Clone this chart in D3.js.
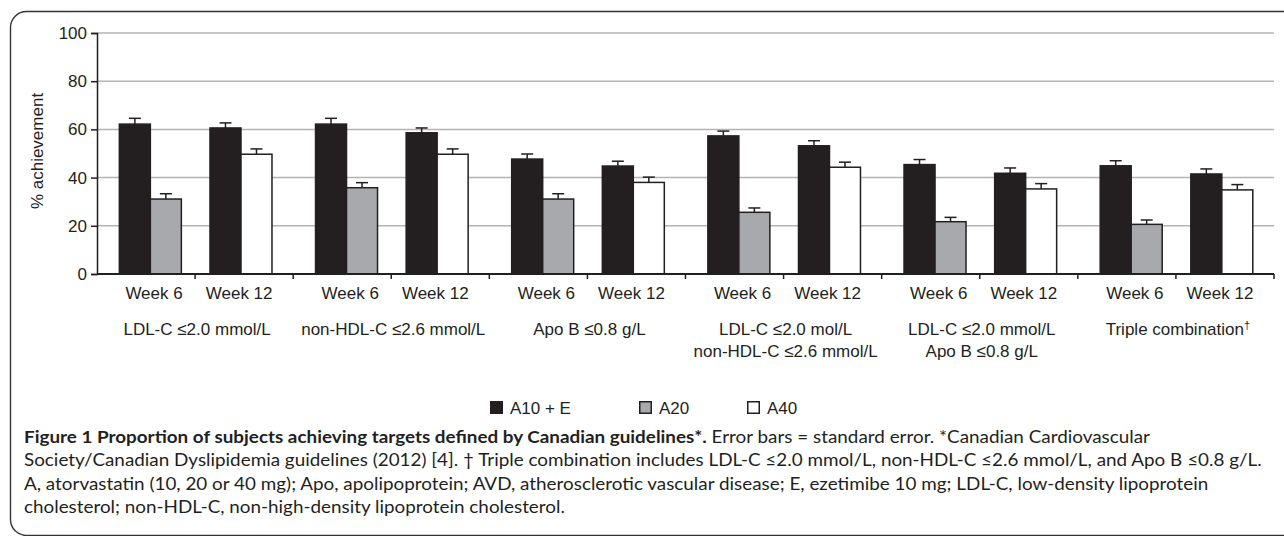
<!DOCTYPE html>
<html>
<head>
<meta charset="utf-8">
<script src="https://cdn.jsdelivr.net/npm/d3@7"></script>
<style>
  html, body { margin: 0; padding: 0; background: #fff; }
  svg { display: block; }
</style>
</head>
<body>
<svg id="chart" width="1284" height="536"></svg>
<script>
// categories, two weeks each -> 12 slots along the x axis
const categoryLines = [
  ["LDL-C ≤2.0 mmol/L"],
  ["non-HDL-C ≤2.6 mmol/L"],
  ["Apo B ≤0.8 g/L"],
  ["LDL-C ≤2.0 mol/L", "non-HDL-C ≤2.6 mmol/L"],
  ["LDL-C ≤2.0 mmol/L", "Apo B ≤0.8 g/L"],
  ["Triple combination†"]
];
const weeks = ["Week 6", "Week 12"];
const seriesNames = ["A10 + E", "A20", "A40"];
const seriesColors = ["#231f20", "#a7a9ac", "#ffffff"];

// values per slot (cat0 wk6, cat0 wk12, cat1 wk6, ...), null = not shown
const a10e = [62.2, 60.6, 62.2, 58.6, 47.7, 44.8, 57.3, 53.2, 45.4, 41.8, 44.9, 41.5];
const a20 = [31.1, null, 35.8, null, 31.1, null, 25.6, null, 21.7, null, 20.6, null];
const a40 = [null, 49.7, null, 49.7, null, 38.0, null, 44.3, null, 35.3, null, 34.9];

// standard errors
const a10eErr = [2.4, 2.1, 2.4, 2.0, 2.1, 2.0, 2.0, 2.1, 2.1, 2.2, 2.1, 2.1];
const a20Err = [2.2, null, 2.1, null, 2.2, null, 1.8, null, 1.8, null, 1.8, null];
const a40Err = [null, 2.2, null, 2.2, null, 2.2, null, 2.1, null, 2.2, null, 2.2];

const yTicks = [0, 20, 40, 60, 80, 100];

const seriesValues = [a10e, a20, a40];
const seriesErrors = [a10eErr, a20Err, a40Err];

const svg = d3.select("#chart");
const font = "'Liberation Sans', Arial, sans-serif";

// outer rounded frame
svg.append("rect")
  .attr("x", 10.5).attr("y", 11.5)
  .attr("width", 1300).attr("height", 524)
  .attr("rx", 16).attr("ry", 16)
  .attr("fill", "none")
  .attr("stroke", "#333")
  .attr("stroke-width", 1.4);

const plot = { left: 97, right: 1274, top: 33, bottom: 274 };

const nSlots = categoryLines.length * weeks.length;
const x = d3.scaleBand()
  .domain(d3.range(nSlots))
  .range([plot.left, plot.right])
  .padding(0);

const y = d3.scaleLinear()
  .domain([0, 100])
  .range([plot.bottom, plot.top]);

const slotW = x.bandwidth();
const barW = slotW * 0.316;
const pairOffset = [slotW * 0.228, slotW * 0.152]; // week 6, week 12

// gridlines
svg.append("g")
  .selectAll("line")
  .data(yTicks.filter(d => d > 0))
  .join("line")
  .attr("x1", plot.left).attr("x2", plot.right)
  .attr("y1", d => y(d)).attr("y2", d => y(d))
  .attr("stroke", "#b3b3b3")
  .attr("stroke-width", 1.5);

// build bar records
const bars = [];
d3.range(nSlots).forEach(slot => {
  let i = 0;
  seriesValues.forEach((vals, s) => {
    if (vals[slot] == null) return;
    bars.push({
      slot: slot,
      series: s,
      value: vals[slot],
      err: seriesErrors[s][slot],
      x: x(slot) + pairOffset[slot % 2] + i * barW
    });
    i++;
  });
});

// error bars (plus only)
const errG = svg.append("g");
errG.selectAll("line.stem")
  .data(bars)
  .join("line")
  .attr("class", "stem")
  .attr("x1", d => d.x + barW / 2).attr("x2", d => d.x + barW / 2)
  .attr("y1", d => y(d.value)).attr("y2", d => y(d.value + d.err))
  .attr("stroke", "#231f20").attr("stroke-width", 1.5);
errG.selectAll("line.cap")
  .data(bars)
  .join("line")
  .attr("class", "cap")
  .attr("x1", d => d.x + barW / 2 - 6).attr("x2", d => d.x + barW / 2 + 6)
  .attr("y1", d => y(d.value + d.err)).attr("y2", d => y(d.value + d.err))
  .attr("stroke", "#231f20").attr("stroke-width", 1.5);

// bars
svg.append("g")
  .selectAll("rect")
  .data(bars)
  .join("rect")
  .attr("x", d => d.x)
  .attr("y", d => y(d.value))
  .attr("width", barW)
  .attr("height", d => y(0) - y(d.value))
  .attr("fill", d => seriesColors[d.series])
  .attr("stroke", "#231f20")
  .attr("stroke-width", 1.5);

// y axis
const yAxis = d3.axisLeft(y).tickValues(yTicks).tickSize(6).tickPadding(4);
const yG = svg.append("g")
  .attr("transform", `translate(${plot.left},0)`)
  .call(yAxis);
yG.select(".domain").attr("stroke", "#231f20").attr("stroke-width", 1.5);
yG.selectAll(".tick line").attr("stroke", "#231f20").attr("stroke-width", 1.5);
yG.selectAll("text")
  .attr("font-family", font).attr("font-size", 17).attr("fill", "#231f20");

svg.append("text")
  .attr("transform", `translate(43,151) rotate(-90)`)
  .attr("text-anchor", "middle")
  .attr("font-family", font).attr("font-size", 17).attr("fill", "#231f20")
  .text("% achievement");

// x axis line with slot boundary ticks
const boundaries = d3.range(nSlots + 1).map(i => plot.left + i * slotW);
svg.append("line")
  .attr("x1", plot.left).attr("x2", plot.right)
  .attr("y1", plot.bottom).attr("y2", plot.bottom)
  .attr("stroke", "#231f20").attr("stroke-width", 1.8);
svg.append("g")
  .selectAll("line")
  .data(boundaries.slice(1))
  .join("line")
  .attr("x1", d => d).attr("x2", d => d)
  .attr("y1", plot.bottom).attr("y2", plot.bottom + 5)
  .attr("stroke", "#231f20").attr("stroke-width", 1.5);

// week labels
const weekShift = [8, -5];
svg.append("g")
  .selectAll("text")
  .data(d3.range(nSlots))
  .join("text")
  .attr("x", d => x(d) + slotW / 2 + weekShift[d % 2])
  .attr("y", 299)
  .attr("text-anchor", "middle")
  .attr("font-family", font).attr("font-size", 17).attr("fill", "#231f20")
  .text(d => weeks[d % 2]);

// category labels
const catG = svg.append("g")
  .selectAll("text")
  .data(categoryLines)
  .join("text")
  .attr("x", (d, i) => x(i * 2) + slotW + 2)
  .attr("y", 335)
  .attr("text-anchor", "middle")
  .attr("font-family", font).attr("font-size", 17).attr("fill", "#231f20");
catG.each(function(lines) {
  const t = d3.select(this);
  lines.forEach((line, li) => {
    const ts = t.append("tspan")
      .attr("x", t.attr("x"))
      .attr("dy", li === 0 ? 0 : 22);
    if (line.endsWith("†")) {
      ts.text(line.slice(0, -1));
      t.append("tspan").attr("dy", -6).attr("font-size", 11).text("†");
    } else {
      ts.text(line);
    }
  });
});

// legend
const legendX = [490, 639, 747];
const legend = svg.append("g")
  .selectAll("g")
  .data(seriesNames)
  .join("g")
  .attr("transform", (d, i) => `translate(${legendX[i]},401)`);
legend.append("rect")
  .attr("x", 0.75).attr("y", 0.75)
  .attr("width", 11.5).attr("height", 11.5)
  .attr("fill", (d, i) => seriesColors[i])
  .attr("stroke", "#231f20").attr("stroke-width", 1.5);
legend.append("text")
  .attr("x", 20).attr("y", 13)
  .attr("font-family", font).attr("font-size", 17).attr("fill", "#231f20")
  .text(d => d);

// caption
const captionLines = [
  [["Figure 1 Proportion of subjects achieving targets defined by Canadian guidelines*.", true],
   [" Error bars = standard error. *Canadian Cardiovascular", false]],
  [["Society/Canadian Dyslipidemia guidelines (2012) [4]. † Triple combination includes LDL-C ≤2.0 mmol/L, non-HDL-C ≤2.6 mmol/L, and Apo B ≤0.8 g/L.", false]],
  [["A, atorvastatin (10, 20 or 40 mg); Apo, apolipoprotein; AVD, atherosclerotic vascular disease; E, ezetimibe 10 mg; LDL-C, low-density lipoprotein", false]],
  [["cholesterol; non-HDL-C, non-high-density lipoprotein cholesterol.", false]]
];
const capG = svg.append("g");
const capTexts = capG.selectAll("text")
  .data(captionLines)
  .join("text")
  .attr("x", 0)
  .attr("y", (d, i) => 443 + i * 23.5)
  .attr("font-family", "Lato, 'Open Sans', sans-serif")
  .attr("font-size", 17.5)
  .attr("fill", "#231f20");
capTexts.each(function(parts) {
  const t = d3.select(this);
  parts.forEach(p => {
    t.append("tspan")
      .attr("font-weight", p[1] ? "bold" : "normal")
      .style("white-space", "pre")
      .text(p[0]);
  });
});
// squeeze caption horizontally to the narrower journal font width
const natural = capTexts.nodes()[1].getComputedTextLength();
const k = (1262 - 24) / natural;
capG.attr("transform", `translate(24,0) scale(${k},1)`);
</script>
</body>
</html>
